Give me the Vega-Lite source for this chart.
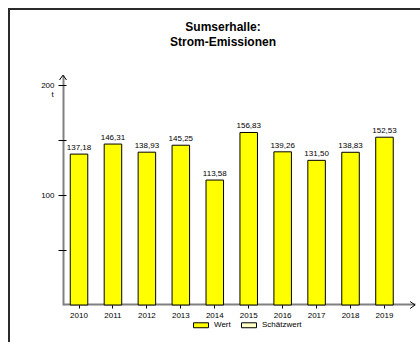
{
  "$schema": "https://vega.github.io/schema/vega-lite/v6.json",
  "autosize": {"type": "none"},
  "width": 428,
  "height": 345,
  "padding": {"left": 9, "top": 9, "right": -17, "bottom": -12},
  "background": "#ffffff",
  "title": {
    "text": ["Sumserhalle:", "Strom-Emissionen"],
    "anchor": "middle",
    "frame": "group",
    "offset": -39.5,
    "baseline": "top",
    "font": "Liberation Sans",
    "fontSize": 12,
    "fontWeight": "bold",
    "lineHeight": 15,
    "color": "#000000"
  },
  "config": {
    "locale": {"number": {"decimal": ",", "thousands": ".", "grouping": [3], "currency": ["", " €"]}},
    "view": {"stroke": "#2a2a2a", "strokeWidth": 2},
    "font": "Liberation Sans",
    "axis": {"labelFont": "Liberation Sans", "labelFontSize": 8, "labelColor": "#000000", "grid": false, "tickColor": "#000000", "domainColor": "#808080", "domainWidth": 2}
  },
  "datasets": {
    "emissionen": [
      {"Jahr": "2010", "v": 137.18, "Typ": "Wert"},
      {"Jahr": "2011", "v": 146.31, "Typ": "Wert"},
      {"Jahr": "2012", "v": 138.93, "Typ": "Wert"},
      {"Jahr": "2013", "v": 145.25, "Typ": "Wert"},
      {"Jahr": "2014", "v": 113.58, "Typ": "Wert"},
      {"Jahr": "2015", "v": 156.83, "Typ": "Wert"},
      {"Jahr": "2016", "v": 139.26, "Typ": "Wert"},
      {"Jahr": "2017", "v": 131.50, "Typ": "Wert"},
      {"Jahr": "2018", "v": 138.83, "Typ": "Wert"},
      {"Jahr": "2019", "v": 152.53, "Typ": "Wert"}
    ],
    "pfeile": [
      {"ax": 0, "ay": 209, "richtung": "oben"},
      {"ax": 1, "ay": 0, "richtung": "rechts"}
    ]
  },
  "layer": [
    {
      "data": {"name": "pfeile"},
      "mark": {"type": "point", "filled": false, "stroke": "#000000", "strokeWidth": 1, "size": 49, "opacity": 1},
      "encoding": {
        "x": {"field": "ax", "type": "quantitative", "scale": {"domain": [0, 1], "range": [54, 406], "nice": false, "zero": false}, "axis": null},
        "y": {"field": "ay", "type": "quantitative", "scale": {"domain": [0, 209], "range": [296, 66.1], "nice": false}, "axis": {"orient": "left", "offset": -54, "domain": true, "ticks": false, "labels": false, "grid": false, "title": null}},
        "shape": {"field": "richtung", "type": "nominal", "scale": {"domain": ["oben", "rechts"], "range": ["M-1,1.4L0,0L1,1.4", "M-1.4,-1L0,0L-1.4,1"]}, "legend": null}
      }
    },
    {
      "data": {"name": "emissionen"},
      "encoding": {
        "x": {"field": "Jahr", "type": "ordinal", "scale": {"range": [54, 406], "paddingInner": 0.484, "paddingOuter": 0.4275, "align": 0.25},
          "axis": {"orient": "bottom", "offset": -50, "title": null, "labelAngle": 0, "tickSize": 4, "labelPadding": 3, "domain": true}},
        "y": {"field": "v", "type": "quantitative", "scale": {"domain": [0, 209], "range": [296, 66.1], "nice": false}}
      },
      "layer": [
        {
          "mark": {"type": "bar", "stroke": "#000000", "strokeWidth": 1},
          "encoding": {
            "y": {"field": "v", "type": "quantitative", "scale": {"domain": [0, 209], "range": [296, 66.1], "nice": false},
              "axis": {"orient": "left", "offset": -57, "domain": false, "tickSize": 8, "labelPadding": 4, "values": [50, 100, 150, 200],
                "labelExpr": "datum.value % 100 == 0 ? datum.label : ''",
                "title": "t", "titleAngle": 0, "titleX": -14, "titleY": 85, "titleAlign": "center", "titleBaseline": "middle",
                "titleFont": "Liberation Sans", "titleFontSize": 8, "titleFontWeight": "normal", "titleColor": "#000000"}},
            "fill": {"field": "Typ", "type": "nominal", "scale": {"domain": ["Wert", "Schätzwert"], "range": ["#ffff00", "#ffffc8"]},
              "legend": {"title": null, "orient": "none", "direction": "horizontal", "legendX": 184, "legendY": 308, "padding": 0,
                "symbolType": "M-1,-0.33H1V0.33H-1Z", "symbolSize": 225, "symbolStrokeColor": "#000000", "symbolStrokeWidth": 1,
                "labelFont": "Liberation Sans", "labelFontSize": 8, "labelColor": "#000000", "labelOffset": 5, "columnPadding": 8}}
          }
        },
        {
          "mark": {"type": "text", "baseline": "bottom", "dy": -2, "font": "Liberation Sans", "fontSize": 8, "color": "#000000"},
          "encoding": {
            "text": {"field": "v", "type": "quantitative", "format": ".2f"}
          }
        }
      ]
    }
  ],
  "resolve": {"scale": {"x": "independent", "y": "independent", "shape": "independent"}}
}
